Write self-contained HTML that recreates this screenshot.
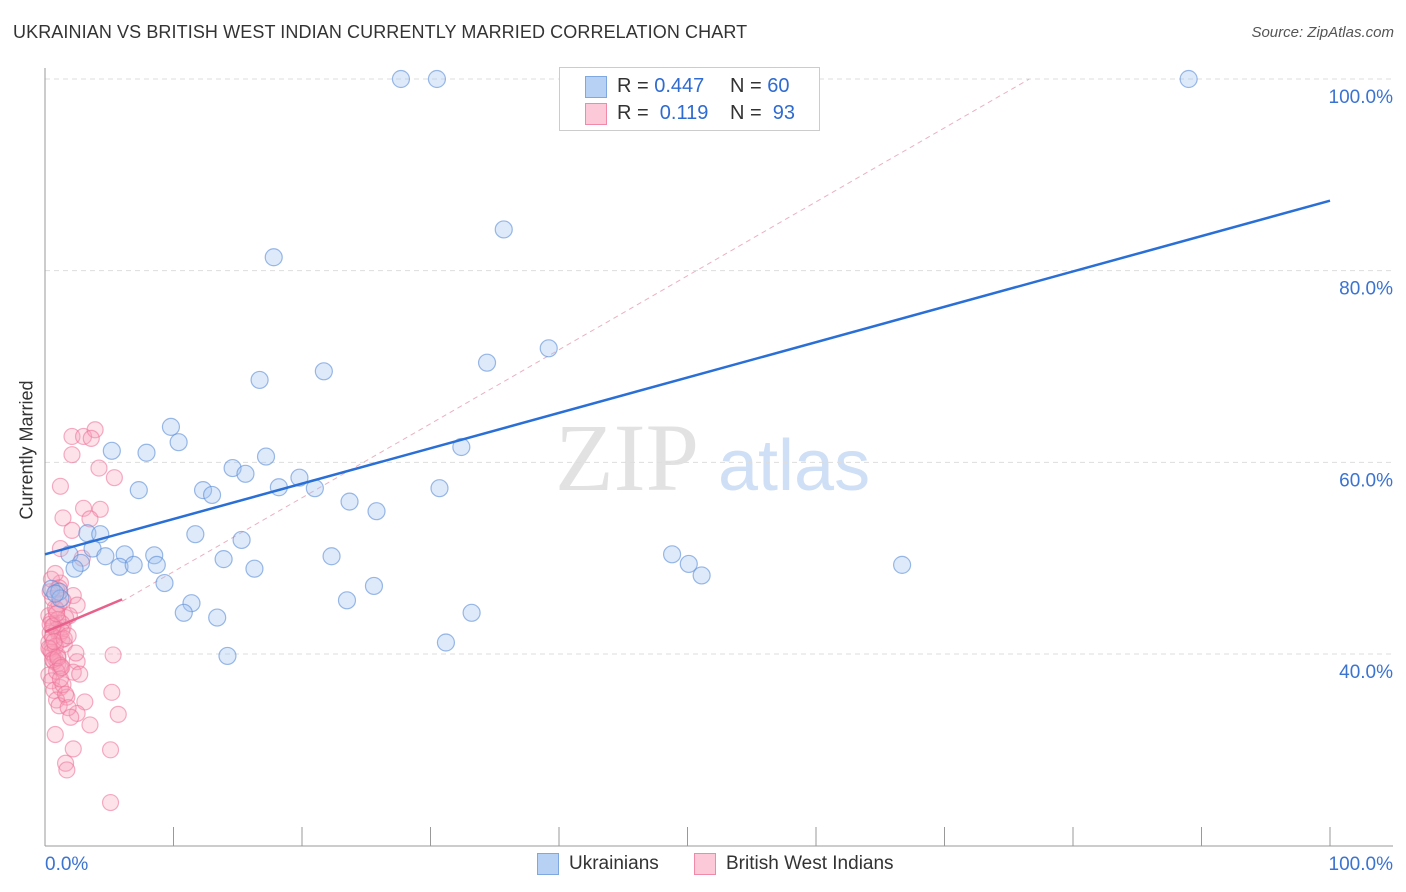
<!DOCTYPE html>
<html><head><meta charset="utf-8">
<style>
body{margin:0;background:#fff;font-family:"Liberation Sans",sans-serif;}
#wrap{position:relative;width:1406px;height:892px;overflow:hidden;}
.t{position:absolute;white-space:nowrap;}
</style></head>
<body>
<div id="wrap">
<div class="t" style="left:13px;top:22px;font-size:18px;color:#333;letter-spacing:0.1px">UKRAINIAN VS BRITISH WEST INDIAN CURRENTLY MARRIED CORRELATION CHART</div>
<div class="t" style="right:12px;top:24px;font-size:15px;color:#555;font-style:italic">Source: ZipAtlas.com</div>
<div class="t" style="left:-38px;top:444px;font-size:18px;color:#333;transform:rotate(-90deg);transform-origin:center;width:130px;text-align:center">Currently Married</div>
<svg id="svg" width="1406" height="892" style="position:absolute;left:0;top:0"></svg>
<div style="position:absolute;left:559px;top:67px;width:259px;height:62px;border:1px solid #ccc;background:#fff">
  <div style="position:absolute;left:25px;top:8px;width:20px;height:20px;background:#b7d1f5;border:1px solid #7fa8e0"></div>
  <div class="t" style="left:57px;top:7px;font-size:20px;color:#333">R = <span style="color:#2f6bd0">0.447</span></div>
  <div class="t" style="left:170px;top:7px;font-size:20px;color:#333">N = <span style="color:#2f6bd0">60</span></div>
  <div style="position:absolute;left:25px;top:35px;width:20px;height:20px;background:#fbc9d7;border:1px solid #f08aa8"></div>
  <div class="t" style="left:57px;top:34px;font-size:20px;color:#333">R = &nbsp;<span style="color:#2f6bd0">0.119</span></div>
  <div class="t" style="left:170px;top:34px;font-size:20px;color:#333">N = &nbsp;<span style="color:#2f6bd0">93</span></div>
</div>
<div style="position:absolute;left:537px;top:853px">
  <div style="position:absolute;left:0;top:0;width:20px;height:20px;background:#b7d1f5;border:1px solid #7fa8e0"></div>
  <div class="t" style="left:32px;top:0;font-size:19px;color:#333">Ukrainians</div></div>
<div style="position:absolute;left:694px;top:853px">
  <div style="position:absolute;left:0;top:0;width:20px;height:20px;background:#fbc9d7;border:1px solid #f08aa8"></div>
  <div class="t" style="left:32px;top:0;font-size:19px;color:#333">British West Indians</div></div>
</div>
<script>
const xTicks=[0,10,20,30,40,50,60,70,80,90,100];
const yTicks=[40,60,80,100];
const yTickLabels=["40.0%","60.0%","80.0%","100.0%"];
const xEndLabels=["0.0%","100.0%"];
const blueX=[27.7,30.5,89,35.7,17.8,39.2,34.4,21.7,16.7,9.8,10.4,5.2,7.9,32.4,17.2,14.6,15.6,19.8,7.3,12.3,13,18.2,21,30.7,23.7,25.8,3.3,11.7,4.3,15.3,3.7,1.9,6.2,8.5,4.7,22.3,13.9,2.8,5.8,6.9,8.7,16.3,48.8,50.1,51.1,66.7,2.3,9.3,25.6,0.5,1.1,11.4,10.8,23.5,33.2,13.4,31.2,14.2,1.2,0.8];
const blueY=[100,100,100,84.3,81.4,71.9,70.4,69.5,68.6,63.7,62.1,61.2,61,61.6,60.6,59.4,58.8,58.4,57.1,57.1,56.6,57.4,57.3,57.3,55.9,54.9,52.6,52.5,52.5,51.9,51,50.4,50.4,50.3,50.2,50.2,49.9,49.5,49.1,49.3,49.3,48.9,50.4,49.4,48.2,49.3,48.9,47.4,47.1,46.8,46.5,45.3,44.3,45.6,44.3,43.8,41.2,39.8,45.8,46.3];
const pinkX=[2.1,3,3.9,3.6,2.1,4.2,5.4,1.2,3,4.3,1.4,3.5,2.1,1.2,2.9,1.2,0.9,2.2,2.5,1.9,5.3,2.5,2.2,5.2,5.7,3.1,1.2,1.7,2.5,3.5,0.8,2.2,5.1,1.6,1.7,5.1,
0.3,0.5,0.7,0.9,1.1,1.3,1.5,0.4,0.6,0.8,1,1.2,1.4,1.6,0.3,0.5,0.7,0.9,1.1,1.3,0.4,0.6,0.8,1,1.2,0.3,0.5,0.7,0.9,1.1,1.4,0.4,0.6,0.8,1,1.3,1.5,0.3,0.6,0.9,1.2,1.6,1.8,2,0.5,0.8,1.1,1.4,0.4,0.7,1,1.3,0.6,0.9,1.8,2.4,2.7];
const pinkY=[62.7,62.7,63.4,62.5,60.8,59.4,58.4,57.5,55.2,55.1,54.2,54.1,52.9,51,50,47.4,46.7,46.1,45.1,44,39.9,39.2,38.1,36,33.7,35,36.5,35.5,33.8,32.6,31.6,30.1,30,28.6,27.9,24.5,
44,43.5,43,42.5,42,41.5,41,40.5,40,39.5,39,38.5,42.8,43.8,41.2,40.2,39.2,44.6,45.2,43.2,42.2,41.8,40.8,39.8,38.8,37.8,37.2,36.2,35.2,34.6,36.8,46.5,45.8,44.8,43.6,42.4,41.6,40.6,39.4,38.2,37.4,35.8,34.4,33.4,47.8,48.4,46.9,45.6,43.1,41.3,39.6,38.6,42.9,44.2,41.9,40.1,37.9];
const X0=45,X1=1330,Y100=79,Y40=654;
const sx=v=>X0+(X1-X0)*v/100;
const sy=v=>Y40+(Y100-Y40)*(v-40)/60;
const svg=document.getElementById('svg');const NS='http://www.w3.org/2000/svg';
function mk(t,a){const e=document.createElementNS(NS,t);for(const k in a)e.setAttribute(k,a[k]);svg.appendChild(e);return e;}
// watermark
let w=mk('text',{x:555,y:490,'font-size':96,fill:'#e2e2e2','font-family':'Liberation Serif,serif'});w.textContent='ZIP';


let w2=mk('text',{x:718,y:490,'font-size':72,fill:'#cfdff5','font-family':'Liberation Sans,sans-serif'});w2.textContent='atlas';


yTicks.forEach((v,i)=>{
 const g=mk('line',{x1:X0,x2:1393,y1:sy(v),y2:sy(v),stroke:'#ddd','stroke-dasharray':'5,4'});
 
 
 const t=mk('text',{x:1393,y:sy(v)+24,'text-anchor':'end','font-size':19,fill:'#3b73d1','font-family':'Liberation Sans,sans-serif'});t.textContent=yTickLabels[i];
 
 
});
const ax=mk('line',{x1:X0,x2:X0,y1:68,y2:846,stroke:'#999'});


const bx=mk('line',{x1:X0,x2:1393,y1:846,y2:846,stroke:'#999'});


xTicks.forEach(v=>{const t=mk('line',{x1:sx(v),x2:sx(v),y1:827,y2:846,stroke:'#999'});
 
 });
[[0,'start'],[100,'end']].forEach((p,i)=>{const t=mk('text',{x:i?1393:45,y:870,'text-anchor':p[1],'font-size':19,fill:'#3b73d1','font-family':'Liberation Sans,sans-serif'});t.textContent=xEndLabels[i];
 
 });
// dashed reference
const d=mk('line',{x1:sx(6),x2:sx(76.6),y1:sy(45.5),y2:sy(100),stroke:'#ebb0c0','stroke-dasharray':'5,4','stroke-width':1});


pinkX.forEach((x,i)=>{const c=mk('circle',{cx:sx(x),cy:sy(pinkY[i]),r:8,fill:'rgba(247,160,185,0.3)',stroke:'rgba(236,110,150,0.55)','stroke-width':1.2});
 
 });
blueX.forEach((x,i)=>{const c=mk('circle',{cx:sx(x),cy:sy(blueY[i]),r:8.5,fill:'rgba(160,195,240,0.35)',stroke:'rgba(90,140,215,0.6)','stroke-width':1.2});
 
 });
const bl=mk('line',{x1:sx(0),y1:sy(50.4),x2:sx(100),y2:sy(87.3),stroke:'#2a6fd6','stroke-width':2.5});


const pl=mk('line',{x1:sx(0),y1:sy(42.3),x2:sx(6),y2:sy(45.7),stroke:'#e8608c','stroke-width':2.5});


</script>
</body></html>
